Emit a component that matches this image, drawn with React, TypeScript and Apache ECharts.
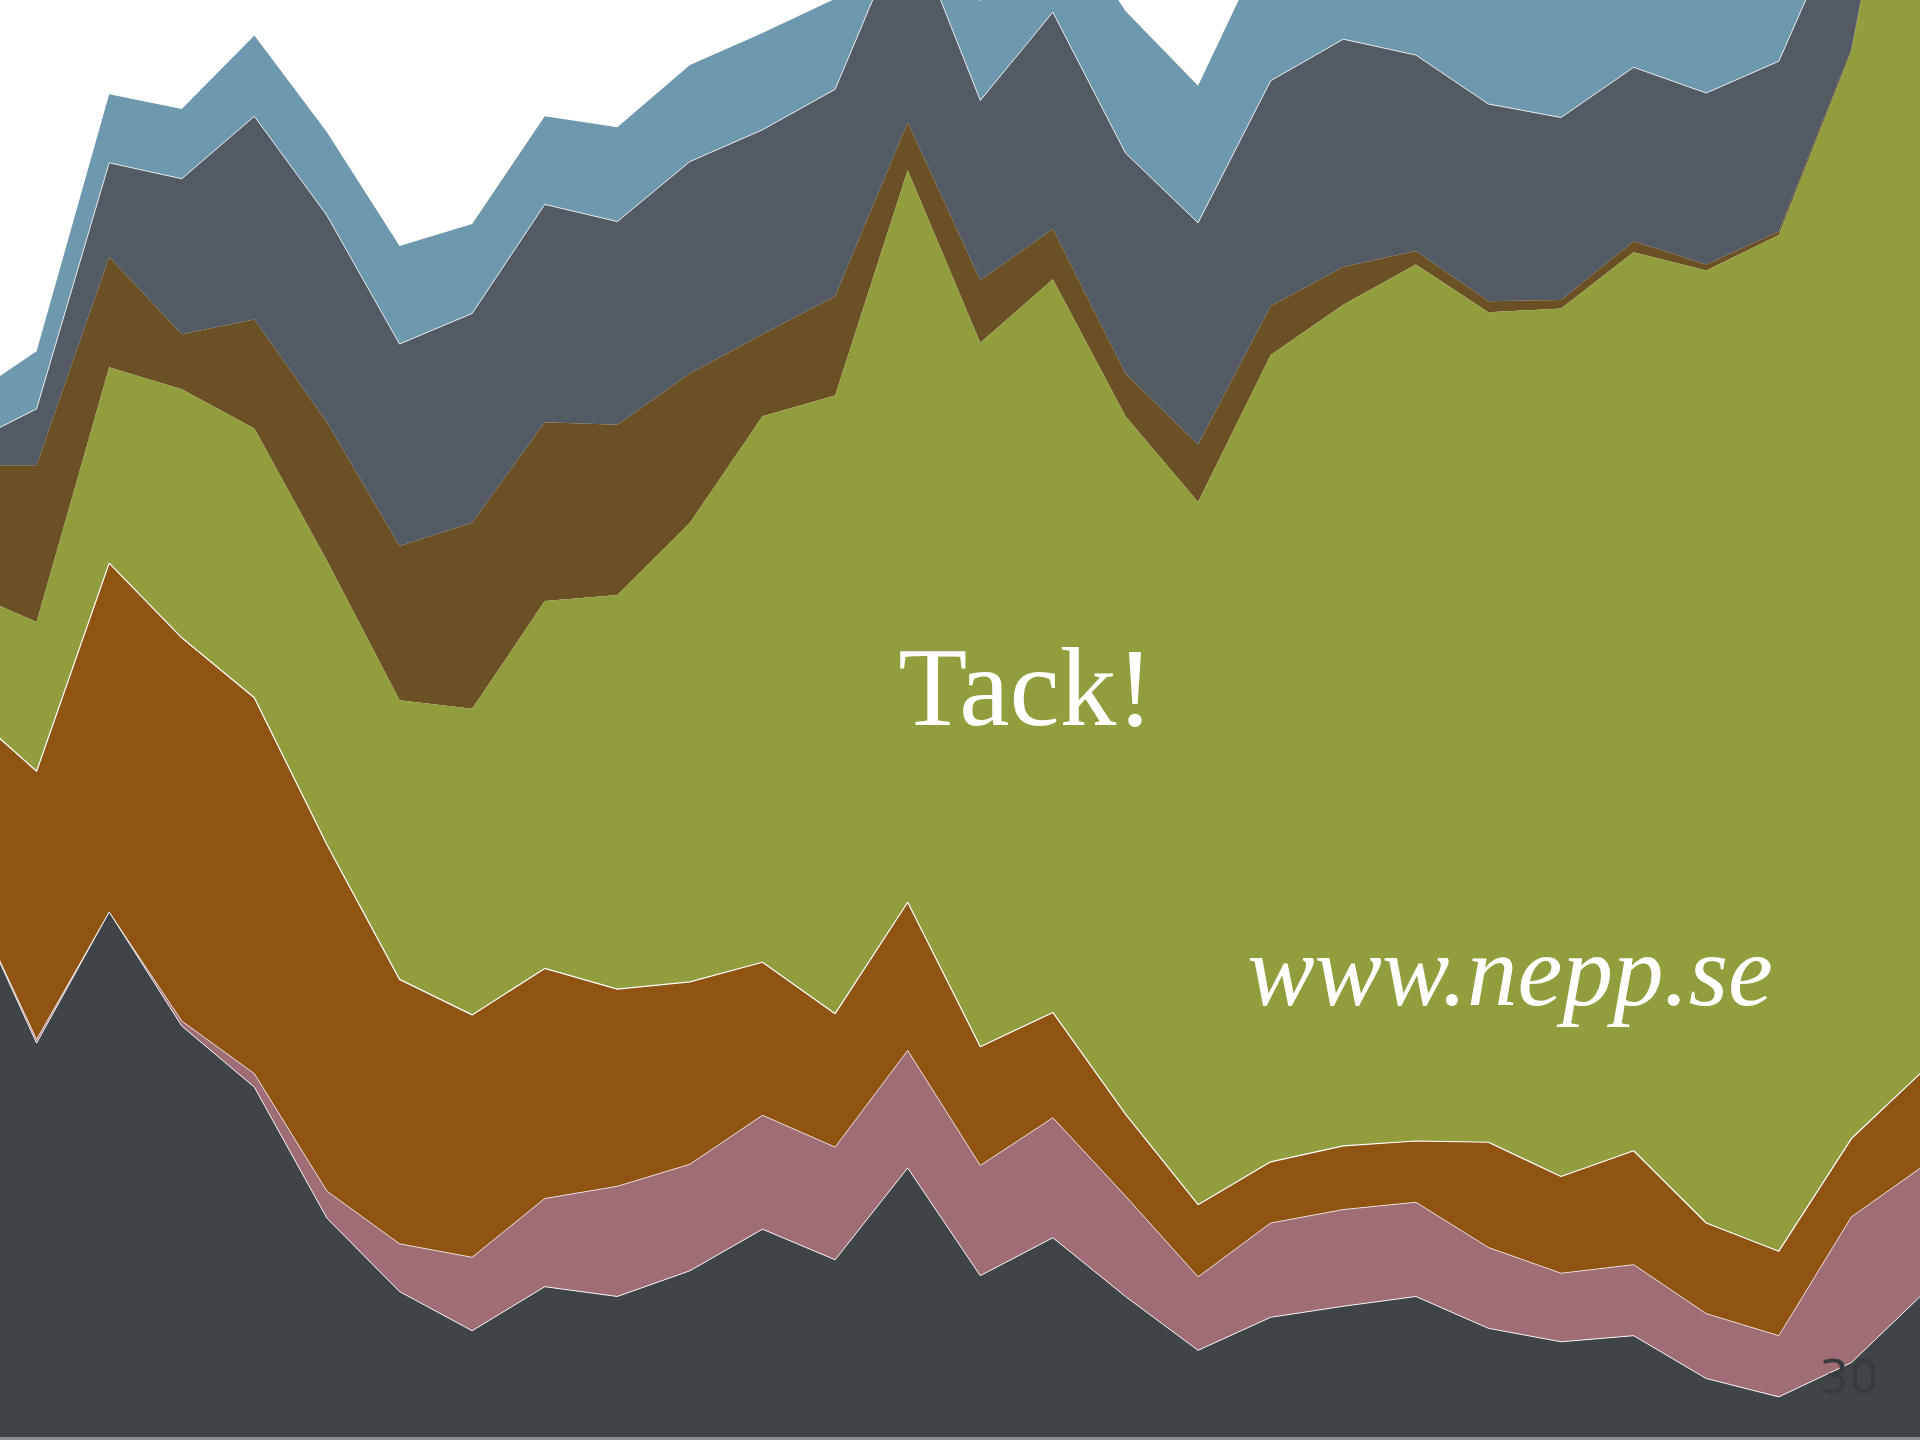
import React, { useEffect, useRef } from "react";
import * as echarts from "echarts";

// 28 sample points; the first and last lie just outside the visible slide
const categories = [
  "p0", "p1", "p2", "p3", "p4", "p5", "p6", "p7", "p8", "p9",
  "p10", "p11", "p12", "p13", "p14", "p15", "p16", "p17", "p18", "p19",
  "p20", "p21", "p22", "p23", "p24", "p25", "p26", "p27",
];

// layer thicknesses, bottom to top
const darkValues = [453, 323, 430, 337, 287, 180, 120, 88, 124, 116, 137, 171, 146, 221, 133, 164, 116, 72, 99, 108, 116, 90, 79, 84, 49, 34, 62, 119];
const pinkValues = [0, 3, 0, 4, 11, 22, 39, 60, 72, 90, 87, 93, 92, 96, 90, 98, 82, 60, 77, 79, 77, 66, 56, 58, 53, 50, 119, 104];
const orangeValues = [145, 219, 285, 313, 307, 283, 216, 198, 188, 161, 149, 125, 109, 121, 97, 86, 67, 59, 50, 52, 50, 86, 79, 93, 74, 69, 64, 78];
const oliveValues = [95, 122, 160, 203, 220, 232, 228, 250, 300, 322, 375, 446, 505, 598, 575, 599, 570, 574, 659, 687, 716, 678, 709, 734, 778, 830, 888, 1139];
const brownValues = [102, 128, 90, 45, 89, 113, 126, 152, 146, 139, 122, 67, 81, 39, 51, 41, 35, 47, 40, 31, 11, 9, 7, 9, 5, 3, 2, 5];
const slateValues = [16, 46, 77, 127, 166, 169, 165, 171, 178, 166, 173, 167, 169, 168, 147, 177, 180, 181, 184, 186, 160, 161, 149, 142, 140, 139, 125, 20];
const blueValues = [37, 47, 56, 57, 66, 68, 80, 73, 72, 77, 79, 79, 74, 52, 81, 90, 116, 112, 121, 92, 105, 125, 136, 105, 116, 90, 45, 30];

const layers = [
  { name: "A", data: darkValues, color: "#3e4447", line: 1, lineOpacity: 0.9 },
  { name: "B", data: pinkValues, color: "#a06d75", line: 1, lineOpacity: 0.7 },
  { name: "C", data: orangeValues, color: "#8f5411", line: 1.2, lineOpacity: 1 },
  { name: "D", data: oliveValues, color: "#929d3d", line: 0, lineOpacity: 0 },
  { name: "E", data: brownValues, color: "#6a5024", line: 0, lineOpacity: 0 },
  { name: "F", data: slateValues, color: "#525a63", line: 1, lineOpacity: 0.8 },
  { name: "G", data: blueValues, color: "#6e98ae", line: 0, lineOpacity: 0 },
];

// the plot is wider than the slide: it starts 36px left of the page edge
const SHIFT = 36;
const PLOT_W = 1960;

export default function App() {
  const ref = useRef<HTMLDivElement>(null);
  useEffect(() => {
    if (!ref.current) return;
    const chart = echarts.init(ref.current, null, { renderer: "svg" });
    const series = layers.map((l, i) => ({
      type: "line",
      name: l.name,
      stack: "total",
      data: l.data,
      symbol: "none",
      smooth: false,
      z: 10 - i,
      lineStyle: { color: "#ffffff", width: l.line, opacity: l.lineOpacity },
      areaStyle: { color: l.color, opacity: 1 },
      emphasis: { disabled: true },
    }));
    chart.setOption({
      animation: false,
      backgroundColor: "#ffffff",
      grid: { left: 0, right: 0, top: 0, bottom: 1.5, containLabel: false },
      xAxis: {
        type: "category",
        data: categories,
        boundaryGap: false,
        axisLine: { show: true, lineStyle: { color: "#8f8f8f", width: 3 } },
        axisTick: { show: false },
        axisLabel: { show: false },
        splitLine: { show: false },
        z: 20,
      },
      yAxis: {
        type: "value",
        min: 0,
        max: 1175,
        show: false,
        splitLine: { show: false },
      },
      series,
      graphic: [
        {
          type: "text",
          z: 100,
          x: 1026 + SHIFT,
          y: 686,
          style: {
            text: "Tack!",
            fill: "#ffffff",
            font: '113px "Liberation Serif"',
            textAlign: "center",
            textVerticalAlign: "middle",
          },
        },
        {
          type: "text",
          z: 100,
          x: 1510 + SHIFT,
          y: 971,
          style: {
            text: "www.nepp.se",
            fill: "#ffffff",
            font: 'italic 101px "Liberation Serif"',
            textAlign: "center",
            textVerticalAlign: "middle",
          },
        },
        {
          type: "text",
          z: 100,
          x: 1849 + SHIFT,
          y: 1376,
          style: {
            text: "30",
            fill: "#373b3d",
            font: '47px "DejaVu Sans"',
            textAlign: "center",
            textVerticalAlign: "middle",
          },
        },
      ],
    });
    return () => chart.dispose();
  }, []);
  return (
    <div
      style={{
        position: "absolute",
        left: 0,
        top: 0,
        width: 1920,
        height: 1440,
        overflow: "hidden",
        background: "#ffffff",
      }}
    >
      <div
        ref={ref}
        style={{ position: "absolute", left: -SHIFT, top: 0, width: PLOT_W, height: 1440 }}
      />
    </div>
  );
}
